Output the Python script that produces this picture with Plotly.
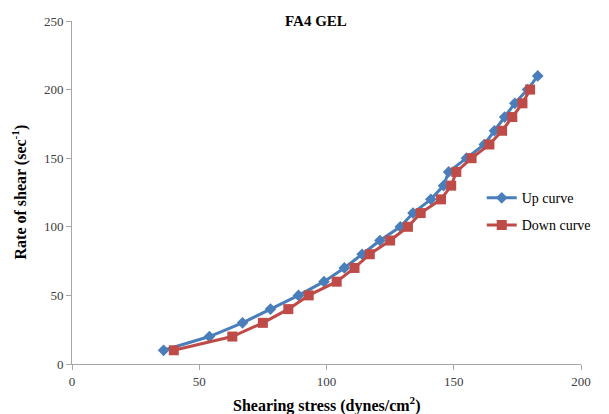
import plotly.graph_objects as go

up_rate = [10, 20, 30, 40, 50, 60, 70, 80, 90, 100, 110, 120, 130, 140, 150, 160, 170, 180, 190, 200, 210]
up_stress = [36, 54, 67, 78, 89, 99, 107, 114, 121, 129, 134, 141, 146, 148, 155, 162, 166, 170, 174, 179, 183]

down_rate = [10, 20, 30, 40, 50, 60, 70, 80, 90, 100, 110, 120, 130, 140, 150, 160, 170, 180, 190, 200]
down_stress = [40, 63, 75, 85, 93, 104, 111, 117, 125, 132, 137, 145, 149, 151, 157, 164, 169, 173, 177, 180]

BLUE = "#4A7EBB"
RED = "#BE4B48"
FONT = "Liberation Serif"

fig = go.Figure()
fig.add_trace(go.Scatter(
    x=up_stress, y=up_rate, mode="lines+markers", name="Up curve",
    legendgroup="a",
    line=dict(color=BLUE, width=3),
    marker=dict(symbol="diamond", size=9, color=BLUE),
))
fig.add_trace(go.Scatter(
    x=down_stress, y=down_rate, mode="lines+markers", name="Down curve",
    legendgroup="b",
    line=dict(color=RED, width=3),
    marker=dict(symbol="square", size=10, color=RED),
))

axis_common = dict(
    showline=True, linecolor="#A6A6A6", linewidth=1,
    ticks="outside", ticklen=5, tickcolor="#A6A6A6",
    showgrid=False, zeroline=False,
    tickfont=dict(family=FONT, size=13, color="#404040"),
)

fig.update_layout(
    width=609, height=414,
    margin=dict(l=72, r=28, t=21, b=50),
    paper_bgcolor="white", plot_bgcolor="white",
    font=dict(family=FONT, size=13, color="#000000"),
    xaxis=dict(range=[0, 200], tickvals=[0, 50, 100, 150, 200], **axis_common),
    yaxis=dict(range=[0, 250], tickvals=[0, 50, 100, 150, 200, 250], **axis_common),
    showlegend=True,
    legend=dict(
        x=0.805, y=0.53, xanchor="left", yanchor="top",
        font=dict(family=FONT, size=14, color="#000000"),
        bgcolor="rgba(0,0,0,0)", tracegroupgap=6, itemwidth=30,
    ),
    annotations=[
        dict(text="<b>FA4 GEL</b>", xref="paper", yref="paper", x=0.48, y=1.0,
             xanchor="center", yanchor="middle", showarrow=False,
             font=dict(family=FONT, size=15, color="#000000")),
        dict(text="<b>Shearing stress (dynes/cm<sup>2</sup>)</b>", xref="paper", yref="paper",
             x=0.5, y=0, yshift=-40, xanchor="center", yanchor="middle", showarrow=False,
             font=dict(family=FONT, size=16, color="#000000")),
        dict(text="<b>Rate of shear (sec<sup>-1</sup>)</b>", xref="paper", yref="paper",
             x=0, xshift=-52, y=0.5, textangle=-90, xanchor="center", yanchor="middle",
             showarrow=False, font=dict(family=FONT, size=16, color="#000000")),
    ],
)

fig.write_html("out.html")
